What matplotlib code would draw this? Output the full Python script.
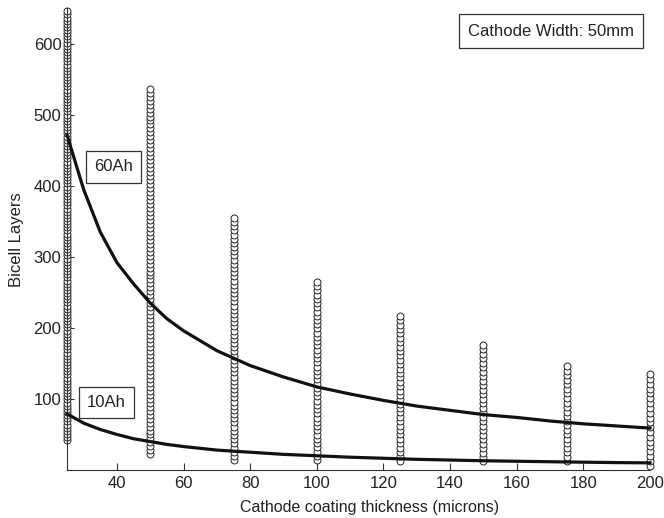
import numpy as np
import matplotlib
matplotlib.use("Agg")
import matplotlib.pyplot as plt

# Circle columns: thickness, lowest layer value, highest layer value, number of circles
col_thickness = [25, 50, 75, 100, 125, 150, 175, 200]
col_low = [42, 22, 14, 14, 13, 12, 12, 6]
col_high = [646, 537, 355, 265, 217, 176, 146, 135]
col_count = [138, 93, 59, 43, 34, 27, 22, 20]

# Capacity curves
curve_x = [25, 30, 35, 40, 45, 50, 55, 60, 70, 80, 90, 100, 110, 120, 130, 140, 150, 160, 170, 180, 190, 200]
curve_60ah = [472, 395, 335, 292, 262, 235, 213, 196, 168, 147, 131, 117, 107, 98, 90, 84, 78, 74, 69, 65, 62, 59]
curve_10ah = [79, 66, 57, 50, 44, 40, 36, 33, 28, 25, 22, 20, 18, 16.5, 15, 14, 13, 12.3, 11.6, 11, 10.4, 10]

xticks = [40, 60, 80, 100, 120, 140, 160, 180, 200]
yticks = [100, 200, 300, 400, 500, 600]

plt.rcParams['font.family'] = ['Liberation Sans', 'DejaVu Sans']
TXT = '#222222'

fig = plt.figure(figsize=(6.64, 5.18), dpi=100)
ax = fig.add_axes([0.1009, 0.0927, 0.878, 0.891])

for t, lo, hi, n in zip(col_thickness, col_low, col_high, col_count):
    ys = np.linspace(lo, hi, n)
    ax.plot(np.full(n, t), ys, linestyle='none', marker='o', markersize=5.0,
            markerfacecolor='white', markeredgecolor='#222222', markeredgewidth=0.7,
            clip_on=False, zorder=2)

ax.plot(curve_x, curve_60ah, color='#111111', linewidth=2.3, zorder=3, clip_on=False)
ax.plot(curve_x, curve_10ah, color='#111111', linewidth=2.3, zorder=3, clip_on=False)

box = dict(boxstyle='square,pad=0.5', facecolor='white', edgecolor='#333333', linewidth=0.9)
ax.text(39.0, 427, '60Ah', ha='center', va='center', fontsize=12, color=TXT, bbox=box, zorder=4)
ax.text(36.8, 95, '10Ah', ha='center', va='center', fontsize=12, color=TXT, bbox=box, zorder=4)
ax.text(170.3, 618, 'Cathode Width: 50mm', ha='center', va='center', fontsize=12, color=TXT,
        bbox=dict(boxstyle='square,pad=0.55', facecolor='white', edgecolor='#333333', linewidth=0.9),
        zorder=4)

ax.set_xlim(25, 200)
ax.set_ylim(0, 650)
ax.set_xticks(xticks)
ax.set_yticks(yticks)
ax.tick_params(direction='in', length=5, width=0.8, colors='#333333', labelcolor=TXT,
               labelsize=12, pad=4)
for s in ['top', 'right']:
    ax.spines[s].set_visible(False)
for s in ['left', 'bottom']:
    ax.spines[s].set_color('#333333')
    ax.spines[s].set_linewidth(0.8)

ax.set_xlabel('Cathode coating thickness (microns)', fontsize=11.5, color=TXT)
ax.xaxis.set_label_coords((370 - 67) / 583, -38 / 461.5, transform=ax.transAxes)
ax.xaxis.label.set_va('center')
ax.set_ylabel('Bicell Layers', fontsize=12, color=TXT)
ax.yaxis.set_label_coords((17 - 67) / 583, 0.5, transform=ax.transAxes)
ax.yaxis.label.set_va('center')

fig.savefig('out.png', dpi=100)
